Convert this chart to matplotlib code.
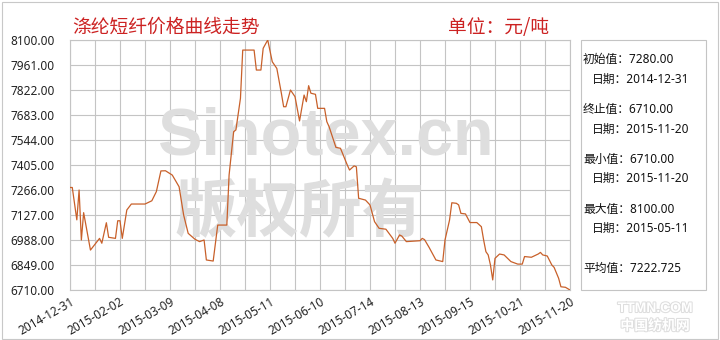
import matplotlib
matplotlib.use("Agg")
import matplotlib.pyplot as plt
from matplotlib.patches import Rectangle
import matplotlib.patheffects as pe

plt.rcParams['font.family'] = ['Noto Sans', 'Noto Sans CJK SC', 'DejaVu Sans']

# trading-day index and price (元/吨)
day = [0, 1, 3, 4, 5, 6, 9, 13, 14, 16, 17, 20, 21, 22, 23, 25, 27, 33, 36, 38,
       40, 42, 45, 48, 50, 52, 55, 57, 59, 60, 63, 65, 69, 70, 72, 73, 75, 76,
       81, 82, 84, 85, 87, 89, 91, 93, 94, 95, 97, 99, 101, 103, 104, 105, 106,
       108, 109, 112, 113, 114, 117, 119, 122, 123, 125, 126, 127, 130, 132,
       134, 136, 139, 142, 143, 145, 146, 148, 154, 155, 156, 158, 161, 164,
       165, 167, 168, 170, 171, 172, 174, 176, 179, 181, 182, 183, 184, 185,
       186, 187, 189, 191, 194, 197, 199, 200, 203, 206, 207, 208, 210, 212,
       213, 215, 216, 218, 220]
price = [7280, 7280, 7100, 7266, 6988, 7140, 6932, 6997, 6970, 7084, 7003, 6997,
         7095, 7095, 6997, 7155, 7188, 7188, 7206, 7257, 7372, 7373, 7349, 7284,
         7127, 7025, 6992, 6979, 6988, 6877, 6871, 7071, 7071, 7349, 7590, 7600,
         7776, 8044, 8044, 7933, 7933, 8054, 8100, 7979, 7942, 7804, 7729, 7729,
         7822, 7785, 7650, 7794, 7757, 7846, 7804, 7798, 7720, 7720, 7646, 7618,
         7503, 7498, 7405, 7377, 7400, 7395, 7220, 7210, 7183, 7090, 7053, 7048,
         6997, 6970, 7016, 7010, 6979, 6984, 6997, 6990, 6947, 6877, 6868, 6988,
         7099, 7195, 7192, 7183, 7136, 7133, 7085, 7085, 7062, 6988, 6923, 6905,
         6849, 6766, 6886, 6910, 6905, 6868, 6854, 6854, 6896, 6892, 6910, 6919,
         6905, 6899, 6849, 6836, 6775, 6728, 6725, 6710]

tick_days = [0, 22, 44, 66, 88, 110, 132, 154, 176, 198, 220]
tick_labels = ["2014-12-31", "2015-02-02", "2015-03-09", "2015-04-08",
               "2015-05-11", "2015-06-10", "2015-07-14", "2015-08-13",
               "2015-09-15", "2015-10-21", "2015-11-20"]
y_ticks = [6710 + 139 * i for i in range(11)]

info = [("初始值：7280.00", 0), ("日期：2014-12-31", 1),
        ("终止值：6710.00", 0), ("日期：2015-11-20", 1),
        ("最小值：6710.00", 0), ("日期：2015-11-20", 1),
        ("最大值：8100.00", 0), ("日期：2015-05-11", 1),
        ("平均值：7222.725", 0)]
info_y = [59, 79, 109, 129, 159, 178, 209, 228, 268]

fig = plt.figure(figsize=(7.2, 3.4), dpi=100)
W, H = 720, 340

def fx(px):
    return px / W

def fy(py):
    return 1 - py / H

ax = fig.add_axes([fx(70), fy(290), 500 / W, 250 / H])
ax.plot(day, price, color="#c8602a", lw=0.9, zorder=3)
ax.set_xlim(0, 220)
ax.set_ylim(6710, 8100)
ax.set_yticks(y_ticks)
ax.set_yticklabels(["%.2f" % v for v in y_ticks], fontsize=8.5, color="#222222")
ax.set_xticks(tick_days)
ax.set_xticks(range(11, 220, 22), minor=True)
ax.set_xticklabels(tick_labels, fontsize=8.5, color="#222222", rotation=30,
                   ha="right", va="top", rotation_mode="anchor")
ax.tick_params(axis="both", which="both", length=0)
ax.tick_params(axis="y", pad=11)
ax.tick_params(axis="x", pad=4)
ax.grid(True, which="both", color="#c4c4c4", lw=0.8, zorder=0)
ax.set_axisbelow(True)
for s in ax.spines.values():
    s.set_color("#c4c4c4")
    s.set_linewidth(0.8)

# watermarks
ax.text(0.51, 0.61, "Sinotex.cn", transform=ax.transAxes, fontsize=48,
        family="Liberation Sans", fontweight="bold", color="#dedede",
        ha="center", va="center", zorder=1.5)
ax.text(0.46, 0.31, "版权所有", transform=ax.transAxes, fontsize=45,
        family="Noto Sans CJK SC", fontweight="bold", color="#dedede",
        ha="center", va="center", zorder=1.5)

# titles
fig.text(fx(72), fy(27), "涤纶短纤价格曲线走势", fontsize=13.5, color="#cc2222",
         family=["Noto Sans CJK SC"], ha="left", va="center")
fig.text(fx(448), fy(27), "单位：元/吨", fontsize=13.5, color="#cc2222",
         family=["Noto Sans CJK SC"], ha="left", va="center")

# info box
fig.add_artist(Rectangle((fx(581), fy(290)), 125 / W, 250 / H,
                         transform=fig.transFigure, fill=False,
                         ec="#c4c4c4", lw=0.8))
for (txt, ind), py in zip(info, info_y):
    fig.text(fx(583 + ind * 9), fy(py), txt, fontsize=8.5, color="#111111",
             ha="left", va="center")

# corner watermark
for txt, py, fs in [("TTMN.COM", 308, 10), ("中国纺机网", 326, 10)]:
    fig.text(fx(655), fy(py), txt, fontsize=fs, fontweight="bold",
             family=["Liberation Sans", "Noto Sans CJK SC"], color="white",
             ha="center", va="center",
             path_effects=[pe.withStroke(linewidth=1.5, foreground="#dedede")])

# outer frame
fig.add_artist(Rectangle((fx(1.5), fy(338.5)), 716 / W, 337 / H,
                         transform=fig.transFigure, fill=False,
                         ec="#c8c8c8", lw=0.8))

fig.savefig("out.png", dpi=100, facecolor="white")
